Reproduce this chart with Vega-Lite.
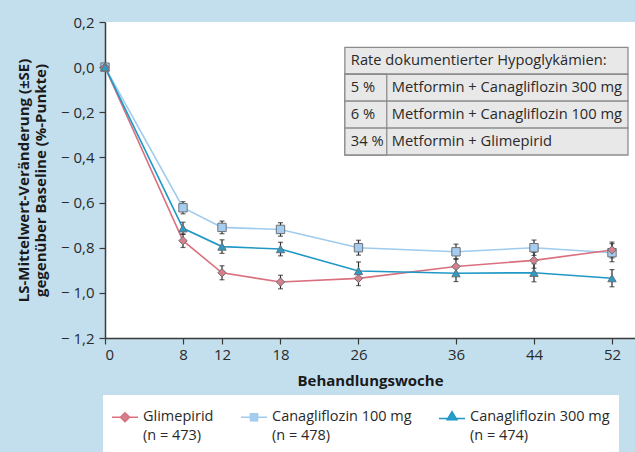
{
  "$schema": "https://vega.github.io/schema/vega-lite/v6.json",
  "width": 530,
  "height": 316,
  "autosize": {"type": "none"},
  "padding": {"left": 105, "top": 22, "right": 0, "bottom": 114},
  "background": "#c3dfee",
  "config": {
    "view": {"stroke": null, "fill": "#ffffff"},
    "font": "Open Sans",
    "axis": {
      "labelFont": "Open Sans", "labelFontSize": 15, "labelColor": "#2a2a2a",
      "titleFont": "Open Sans", "titleFontSize": 15, "titleFontWeight": "bold", "titleColor": "#1a1a1a",
      "domainColor": "#3a3a3a", "domainWidth": 1.5, "tickColor": "#3a3a3a", "tickWidth": 1.2, "tickSize": 6, "grid": false
    }
  },
  "datasets": {
    "series": [
      {"series": "Canagliflozin 100 mg", "week": 0, "value": 0, "se": 0},
      {"series": "Canagliflozin 100 mg", "week": 8, "value": -0.623, "se": 0.027},
      {"series": "Canagliflozin 100 mg", "week": 12, "value": -0.71, "se": 0.028},
      {"series": "Canagliflozin 100 mg", "week": 18, "value": -0.719, "se": 0.03},
      {"series": "Canagliflozin 100 mg", "week": 26, "value": -0.8, "se": 0.033},
      {"series": "Canagliflozin 100 mg", "week": 36, "value": -0.818, "se": 0.034},
      {"series": "Canagliflozin 100 mg", "week": 44, "value": -0.8, "se": 0.034},
      {"series": "Canagliflozin 100 mg", "week": 52, "value": -0.822, "se": 0.04},
      {"series": "Glimepirid", "week": 0, "value": 0, "se": 0},
      {"series": "Glimepirid", "week": 8, "value": -0.769, "se": 0.03},
      {"series": "Glimepirid", "week": 12, "value": -0.911, "se": 0.031},
      {"series": "Glimepirid", "week": 18, "value": -0.952, "se": 0.03},
      {"series": "Glimepirid", "week": 26, "value": -0.936, "se": 0.032},
      {"series": "Glimepirid", "week": 36, "value": -0.883, "se": 0.035},
      {"series": "Glimepirid", "week": 44, "value": -0.856, "se": 0.035},
      {"series": "Glimepirid", "week": 52, "value": -0.81, "se": 0.035},
      {"series": "Canagliflozin 300 mg", "week": 0, "value": 0, "se": 0},
      {"series": "Canagliflozin 300 mg", "week": 8, "value": -0.714, "se": 0.027},
      {"series": "Canagliflozin 300 mg", "week": 12, "value": -0.795, "se": 0.03},
      {"series": "Canagliflozin 300 mg", "week": 18, "value": -0.806, "se": 0.03},
      {"series": "Canagliflozin 300 mg", "week": 26, "value": -0.903, "se": 0.04},
      {"series": "Canagliflozin 300 mg", "week": 36, "value": -0.913, "se": 0.037},
      {"series": "Canagliflozin 300 mg", "week": 44, "value": -0.911, "se": 0.04},
      {"series": "Canagliflozin 300 mg", "week": 52, "value": -0.935, "se": 0.038}
    ],
    "table": [
      {"row": "h", "c1": "Rate dokumentierter Hypoglykämien:", "c2": ""},
      {"row": "a", "c1": "5 %", "c2": "Metformin + Canagliflozin 300 mg"},
      {"row": "b", "c1": "6 %", "c2": "Metformin + Canagliflozin 100 mg"},
      {"row": "c", "c1": "34 %", "c2": "Metformin + Glimepirid"}
    ]
  },
  "layer": [
    {
      "data": {"name": "series"},
      "layer": [
        {
          "mark": {"type": "line", "strokeWidth": 1.6},
          "encoding": {
            "x": {"field": "week", "type": "quantitative", "scale": {"domain": [0, 54.36], "nice": false}, "axis": {"values": [0, 8, 12, 18, 26, 36, 44, 52], "title": "Behandlungswoche", "titlePadding": 11, "labelPadding": 3}},
            "y": {"field": "value", "type": "quantitative", "scale": {"domain": [-1.2, 0.2], "nice": false}, "axis": {"values": [-1.2, -1, -0.8, -0.6, -0.4, -0.2, 0, 0.2], "labelExpr": "replace(replace(replace(format(datum.value, '.1f'), '.', ','), '−', '− '), '-', '− ')", "title": ["LS-Mittelwert-Veränderung (±SE)", "gegenüber Baseline (%-Punkte)"], "titlePadding": 12, "labelPadding": 5}},
            "color": {"field": "series", "type": "nominal", "scale": {"domain": ["Glimepirid", "Canagliflozin 100 mg", "Canagliflozin 300 mg"], "range": ["#d9707e", "#9ecbee", "#2098c6"]}, "legend": null}
          }
        },
        {
          "mark": {"type": "errorbar", "ticks": {"size": 5, "thickness": 1.2}, "rule": {"strokeWidth": 1.2}, "color": "#2a2a2a"},
          "encoding": {
            "x": {"field": "week", "type": "quantitative", "scale": {"domain": [0, 54.36], "nice": false}, "axis": {"values": [0, 8, 12, 18, 26, 36, 44, 52], "title": "Behandlungswoche", "titlePadding": 11, "labelPadding": 3}},
            "y": {"field": "value", "type": "quantitative", "scale": {"domain": [-1.2, 0.2], "nice": false}, "axis": {"values": [-1.2, -1, -0.8, -0.6, -0.4, -0.2, 0, 0.2], "labelExpr": "replace(replace(replace(format(datum.value, '.1f'), '.', ','), '−', '− '), '-', '− ')", "title": ["LS-Mittelwert-Veränderung (±SE)", "gegenüber Baseline (%-Punkte)"], "titlePadding": 12, "labelPadding": 5}},
            "yError": {"field": "se"}
          }
        },
        {
          "mark": {"type": "point", "filled": true, "size": 70, "stroke": "#6b7075", "strokeWidth": 1, "opacity": 1},
          "encoding": {
            "x": {"field": "week", "type": "quantitative", "scale": {"domain": [0, 54.36], "nice": false}, "axis": {"values": [0, 8, 12, 18, 26, 36, 44, 52], "title": "Behandlungswoche", "titlePadding": 11, "labelPadding": 3}},
            "y": {"field": "value", "type": "quantitative", "scale": {"domain": [-1.2, 0.2], "nice": false}, "axis": {"values": [-1.2, -1, -0.8, -0.6, -0.4, -0.2, 0, 0.2], "labelExpr": "replace(replace(replace(format(datum.value, '.1f'), '.', ','), '−', '− '), '-', '− ')", "title": ["LS-Mittelwert-Veränderung (±SE)", "gegenüber Baseline (%-Punkte)"], "titlePadding": 12, "labelPadding": 5}},
            "shape": {"field": "series", "type": "nominal", "scale": {"domain": ["Glimepirid", "Canagliflozin 100 mg", "Canagliflozin 300 mg"], "range": ["diamond", "square", "triangle-up"]}, "legend": null},
            "fill": {"field": "series", "type": "nominal", "scale": {"domain": ["Glimepirid", "Canagliflozin 100 mg", "Canagliflozin 300 mg"], "range": ["#d6808d", "#a6cdef", "#2d9bc8"]}, "legend": null}
          }
        }
      ]
    },
    {
      "data": {"name": "table"},
      "layer": [
        {
          "mark": {"type": "rect", "fill": "#e8e8e8", "stroke": "#8c8c8c", "strokeWidth": 1.3},
          "encoding": {
            "x": {"datum": 24.6, "type": "quantitative", "scale": {"domain": [0, 54.36], "nice": false}},
            "x2": {"datum": 53.64},
            "y": {"field": "row", "type": "nominal", "scale": {"domain": ["h", "a", "b", "c"], "range": [25.3, 133], "paddingInner": 0, "paddingOuter": 0}, "axis": null}
          }
        },
        {
          "transform": [{"filter": "datum.c2 != ''"}],
          "mark": {"type": "rect", "fill": "#e8e8e8", "stroke": "#8c8c8c", "strokeWidth": 1.3},
          "encoding": {
            "x": {"datum": 24.6, "type": "quantitative", "scale": {"domain": [0, 54.36], "nice": false}},
            "x2": {"datum": 28.9},
            "y": {"field": "row", "type": "nominal", "scale": {"domain": ["h", "a", "b", "c"], "range": [25.3, 133], "paddingInner": 0, "paddingOuter": 0}, "axis": null}
          }
        },
        {
          "mark": {"type": "text", "align": "left", "baseline": "middle", "dx": 6, "fontSize": 14.7, "font": "Open Sans", "color": "#2a2a2a"},
          "encoding": {
            "x": {"datum": 24.6, "type": "quantitative", "scale": {"domain": [0, 54.36], "nice": false}},
            "y": {"field": "row", "type": "nominal", "scale": {"domain": ["h", "a", "b", "c"], "range": [25.3, 133], "paddingInner": 0, "paddingOuter": 0}, "axis": null},
            "text": {"field": "c1"}
          }
        },
        {
          "mark": {"type": "text", "align": "left", "baseline": "middle", "dx": 5, "fontSize": 14.7, "font": "Open Sans", "color": "#2a2a2a"},
          "encoding": {
            "x": {"datum": 28.9, "type": "quantitative", "scale": {"domain": [0, 54.36], "nice": false}},
            "y": {"field": "row", "type": "nominal", "scale": {"domain": ["h", "a", "b", "c"], "range": [25.3, 133], "paddingInner": 0, "paddingOuter": 0}, "axis": null},
            "text": {"field": "c2"}
          }
        }
      ]
    },
    {
      "data": {"name": "series"},
      "transform": [{"filter": "datum.week == 0"}],
      "mark": {"type": "point", "filled": true, "opacity": 0},
      "encoding": {
        "x": {"field": "week", "type": "quantitative", "scale": {"domain": [0, 54.36], "nice": false}, "axis": {"values": [0, 8, 12, 18, 26, 36, 44, 52], "title": "Behandlungswoche", "titlePadding": 11, "labelPadding": 3}},
        "y": {"field": "value", "type": "quantitative", "axis": null},
        "shape": {"field": "series", "type": "nominal", "scale": {"domain": ["Glimepirid", "Canagliflozin 100 mg", "Canagliflozin 300 mg"], "range": ["M-1,0H-0.35M0.35,0H1M-0.35,0L0,-0.35L0.35,0L0,0.35Z", "M-1,0H-0.27M0.27,0H1M-0.27,-0.27H0.27V0.27H-0.27Z", "M-1,0.1H-0.3M0.3,0.1H1M-0.38,0.2L0,-0.42L0.38,0.2Z"]},
          "legend": {"title": null, "orient": "none", "legendX": -2, "legendY": 373, "direction": "horizontal", "columns": 3, "columnPadding": 24, "symbolSize": 676, "symbolStrokeWidth": 1.5, "symbolOpacity": 1, "labelFontSize": 14.5, "labelFont": "Open Sans", "labelColor": "#2a2a2a", "labelLimit": 300, "labelOffset": 4, "padding": 8, "fillColor": "#ffffff", "strokeColor": "#ffffff", "encode": {"labels": {"update": {"lineHeight": {"value": 19}}}}, "labelExpr": "[datum.label == 'Canagliflozin 300 mg' ? datum.label + '\u00a0\u00a0\u00a0\u00a0\u00a0\u00a0\u00a0\u00a0\u00a0\u00a0\u00a0' : datum.label, datum.label == 'Glimepirid' ? '(n = 473)' : datum.label == 'Canagliflozin 100 mg' ? '(n = 478)' : '(n = 474)']"}},
        "fill": {"field": "series", "type": "nominal", "scale": {"domain": ["Glimepirid", "Canagliflozin 100 mg", "Canagliflozin 300 mg"], "range": ["#d6808d", "#a6cdef", "#2d9bc8"]},
          "legend": {"title": null, "orient": "none", "legendX": -2, "legendY": 373, "direction": "horizontal", "columns": 3, "columnPadding": 24, "symbolSize": 676, "symbolStrokeWidth": 1.5, "symbolOpacity": 1, "labelFontSize": 14.5, "labelFont": "Open Sans", "labelColor": "#2a2a2a", "labelLimit": 300, "labelOffset": 4, "padding": 8, "fillColor": "#ffffff", "strokeColor": "#ffffff", "encode": {"labels": {"update": {"lineHeight": {"value": 19}}}}, "labelExpr": "[datum.label == 'Canagliflozin 300 mg' ? datum.label + '\u00a0\u00a0\u00a0\u00a0\u00a0\u00a0\u00a0\u00a0\u00a0\u00a0\u00a0' : datum.label, datum.label == 'Glimepirid' ? '(n = 473)' : datum.label == 'Canagliflozin 100 mg' ? '(n = 478)' : '(n = 474)']"}},
        "stroke": {"field": "series", "type": "nominal", "scale": {"domain": ["Glimepirid", "Canagliflozin 100 mg", "Canagliflozin 300 mg"], "range": ["#d9707e", "#9ecbee", "#2098c6"]},
          "legend": {"title": null, "orient": "none", "legendX": -2, "legendY": 373, "direction": "horizontal", "columns": 3, "columnPadding": 24, "symbolSize": 676, "symbolStrokeWidth": 1.5, "symbolOpacity": 1, "labelFontSize": 14.5, "labelFont": "Open Sans", "labelColor": "#2a2a2a", "labelLimit": 300, "labelOffset": 4, "padding": 8, "fillColor": "#ffffff", "strokeColor": "#ffffff", "encode": {"labels": {"update": {"lineHeight": {"value": 19}}}}, "labelExpr": "[datum.label == 'Canagliflozin 300 mg' ? datum.label + '\u00a0\u00a0\u00a0\u00a0\u00a0\u00a0\u00a0\u00a0\u00a0\u00a0\u00a0' : datum.label, datum.label == 'Glimepirid' ? '(n = 473)' : datum.label == 'Canagliflozin 100 mg' ? '(n = 478)' : '(n = 474)']"}}
      }
    }
  ],
  "resolve": {"scale": {"y": "independent", "shape": "independent", "fill": "independent", "stroke": "independent"}}
}
